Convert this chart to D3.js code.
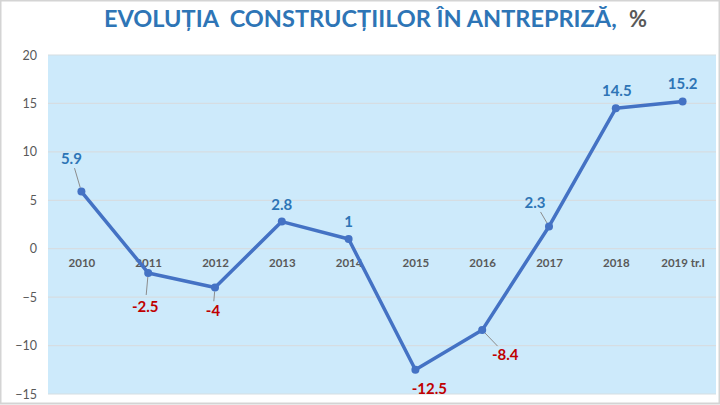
<!DOCTYPE html>
<html><head><meta charset="utf-8">
<script src="https://cdn.jsdelivr.net/npm/d3@7"></script>
<style>body{margin:0;background:#fff}svg{display:block}</style>
</head><body>
<script>
const categories = ["2010","2011","2012","2013","2014","2015","2016","2017","2018","2019 tr.I"];
const values = [5.9, -2.5, -4, 2.8, 1, -12.5, -8.4, 2.3, 14.5, 15.2];
const yTicks = [20, 15, 10, 5, 0, -5, -10, -15];
const labelText = ["5.9","-2.5","-4","2.8","1","-12.5","-8.4","2.3","14.5","15.2"];
// label offsets (style) and whether a leader line is drawn
const labelOffsets = [[-10,-34,true],[-3,33,true],[-2,23,true],[0,-18,false],[0,-18,false],[14,18,false],[23,24,true],[-14,-24,true],[1,-18,false],[0,-18,false]];

const W = 720, H = 405;
const svg = d3.select("body").append("svg").attr("width", W).attr("height", H);
svg.append("rect").attr("x",0.5).attr("y",0.5).attr("width",W-1).attr("height",H-2)
  .attr("fill","#fff").attr("stroke","#d4d4d4").attr("stroke-width",2);

const L = 48, R = 716, T = 55, B = 394;
const x = d3.scalePoint().domain(categories).range([L, R]).padding(0.5);
const y = d3.scaleLinear().domain([-15, 20]).range([B, T]);

svg.append("rect").attr("x",L).attr("y",T).attr("width",R-L).attr("height",B-T).attr("fill","#cdeafb");

// gridlines
svg.append("g").selectAll("line").data(yTicks).join("line")
  .attr("x1",L).attr("x2",R).attr("y1",d=>y(d)).attr("y2",d=>y(d))
  .attr("stroke","#d6dde2").attr("stroke-width",1.2);

// y axis labels
const yAxis = d3.axisLeft(y).tickValues(yTicks).tickSize(0).tickPadding(11);
const ga = svg.append("g").attr("transform",`translate(${L},0)`).call(yAxis);
ga.select(".domain").remove();
ga.selectAll("text").attr("font-family","Lato, 'Open Sans', sans-serif").attr("font-size",12.5).attr("fill","#595959");

// category labels
const xAxis = d3.axisBottom(x).tickSize(0).tickPadding(0);
const gx = svg.append("g").attr("transform",`translate(0,${y(0)+10})`).call(xAxis);
gx.select(".domain").remove();
gx.selectAll("text").attr("font-family","Lato, 'Open Sans', sans-serif").attr("font-weight","bold")
  .attr("font-size",11.5).attr("fill","#595959");

// line
const line = d3.line().x((d,i)=>x(categories[i])).y(d=>y(d));
svg.append("path").datum(values).attr("d",line).attr("fill","none")
  .attr("stroke","#4472c4").attr("stroke-width",3.5).attr("stroke-linejoin","round");

// leader lines
values.forEach((v,i)=>{
  const o = labelOffsets[i];
  if(!o[2]) return;
  const px = x(categories[i]), py = y(v);
  const lx = px + o[0], ly = py + o[1];
  const dx = px - lx, dy = py - ly, len = Math.hypot(dx,dy);
  const s0 = Math.min(11, len*0.4)/len, s1 = (len-4)/len;
  svg.append("line")
    .attr("x1", lx + dx*s0).attr("y1", ly + dy*s0)
    .attr("x2", lx + dx*s1).attr("y2", ly + dy*s1)
    .attr("stroke","#8c8c8c").attr("stroke-width",1);
});

// markers
svg.append("g").selectAll("circle").data(values).join("circle")
  .attr("cx",(d,i)=>x(categories[i])).attr("cy",d=>y(d)).attr("r",4)
  .attr("fill","#4472c4");

// data labels
svg.append("g").selectAll("text").data(values).join("text")
  .attr("x",(d,i)=>x(categories[i]) + labelOffsets[i][0])
  .attr("y",(d,i)=>y(d) + labelOffsets[i][1])
  .attr("text-anchor","middle").attr("dominant-baseline","central")
  .attr("font-family","Lato, 'Open Sans', sans-serif").attr("font-weight","bold").attr("font-size",15)
  .attr("fill",d=> d < 0 ? "#c00000" : "#2e75b6")
  .text((d,i)=>labelText[i]);

// title
function fitText(str, x0, x1, color){
  const g = svg.append("g");
  const t = g.append("text").attr("x",0).attr("y",0)
    .attr("font-family","Lato, 'Open Sans', sans-serif").attr("font-weight","bold").attr("font-size",22.5)
    .attr("fill",color).style("white-space","pre").text(str);
  const w = t.node().getComputedTextLength();
  g.attr("transform",`translate(${x0},27) scale(${(x1-x0)/w},1)`);
}
fitText("EVOLUȚIA  CONSTRUCȚIILOR ÎN ANTREPRIZĂ,", 104, 617, "#2e75b6");
fitText("%", 629, 647, "#595959");
</script>
</body></html>
